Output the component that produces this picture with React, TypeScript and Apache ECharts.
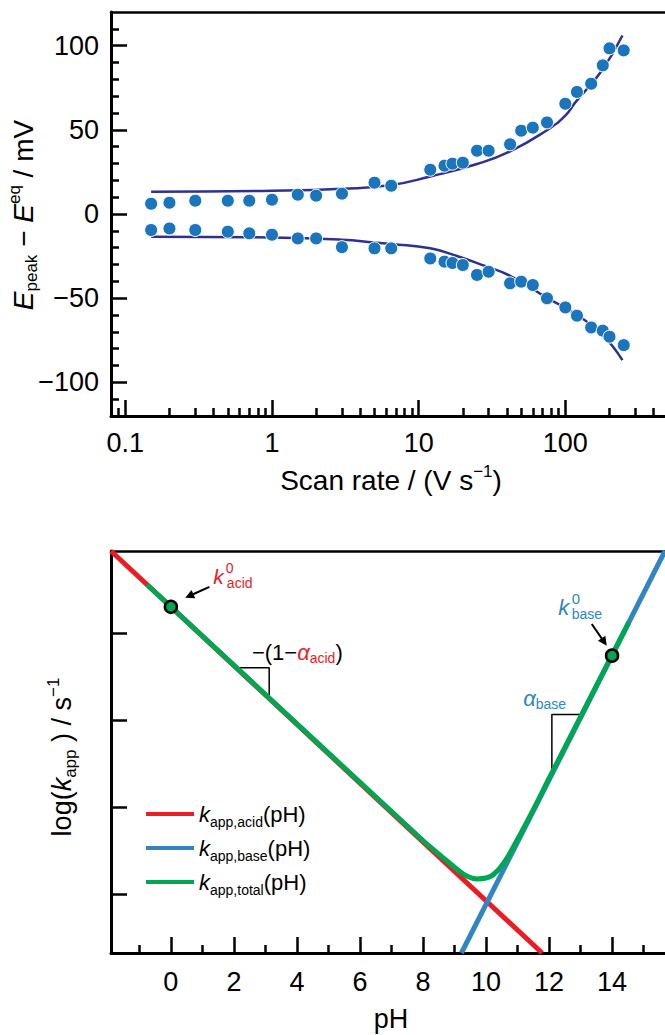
import React, { useEffect, useRef } from 'react';
import * as echarts from 'echarts';

const FONT = 'Liberation Sans, Arial, Helvetica, sans-serif';

// ---------- Top panel data ----------
const scanRates = [0.15, 0.2, 0.3, 0.5, 0.7, 1, 1.5, 2, 3, 5, 6.5, 12, 15, 17, 20, 25, 30, 42, 50, 60, 75, 100, 120, 150, 180, 200, 250];
const upperPeak = [6.1, 6.7, 7.9, 7.9, 7.9, 8.5, 11.5, 10.9, 12.1, 18.6, 16.8, 26.3, 28.7, 29.9, 30.5, 37.6, 37.6, 41.4, 49.5, 51.3, 54.4, 65.5, 72.5, 77.4, 88.3, 98.4, 97.2];
const lowerPeak = [-9.5, -8.6, -9.5, -10.5, -11.5, -12.3, -14.5, -14.5, -19.7, -20.4, -20.4, -26.4, -28.3, -29.1, -30.3, -36.2, -34.3, -41.2, -40.2, -42.2, -50.1, -55.5, -60.4, -67.4, -69.3, -72.9, -77.9];

const upperFitRate = [0.15, 1, 3, 6.5, 12, 25, 42, 74, 100, 117, 177, 245];
const upperFitPeak = [13.2, 13.8, 15.0, 17.2, 22.3, 29.7, 37.2, 49.5, 58.5, 66.3, 85.1, 106];
const lowerFitRate = [0.15, 1, 3, 5, 6.5, 12, 18, 28, 42, 74, 117, 177, 245];
const lowerFitPeak = [-13.5, -14.0, -15.3, -16.9, -17.8, -20.4, -24.8, -30.7, -36.7, -49.5, -59.4, -71.3, -86.8];

const rateMin = 0.0799;
const rateMax = 478;
const rateMajorTicks = [0.1, 1, 10, 100];
const rateTickLabels = ['0.1', '1', '10', '100'];
const rateMinorTicks = [0.09, 0.2, 0.3, 0.4, 0.5, 0.6, 0.7, 0.8, 0.9, 2, 3, 4, 5, 6, 7, 8, 9, 20, 30, 40, 50, 60, 70, 80, 90, 200, 300, 400];
const peakMin = -120;
const peakMax = 120;
const peakMajorTicks = [-100, -50, 0, 50, 100];
const peakMinorTicks = [-110, -90, -80, -70, -60, -40, -30, -20, -10, 10, 20, 30, 40, 60, 70, 80, 90, 110];

// ---------- Bottom panel data ----------
const acidPH = [-1.9, 11.78];
const acidLogK = [4.94, 0.33];
const basePH = [9.22, 15.68];
const baseLogK = [0.33, 4.94];
const totalPH = [-0.76, 8.0, 8.55, 9.08, 9.4, 9.71, 10.0, 10.24, 10.56, 10.98, 11.51, 12.04, 14.53];
const totalLogK = [4.556, 1.62, 1.45, 1.29, 1.21, 1.18, 1.19, 1.23, 1.36, 1.62, 1.98, 2.36, 4.12];
const k0Points = [[0, 4.30], [14, 3.74]];
const acidSlopePH = [2.1, 3.12, 3.12];
const acidSlopeLogK = [3.60, 3.60, 3.26];
const baseSlopePH = [13.0, 12.09, 12.09];
const baseSlopeLogK = [3.066, 3.066, 2.40];

const pHMin = -1.9;
const pHMax = 15.68;
const pHMajorTicks = [0, 2, 4, 6, 8, 10, 12, 14];
const pHMinorTicks = [-1, 1, 3, 5, 7, 9, 11, 13, 15];
const logKMin = 0.33;
const logKMax = 4.94;
const logKTicks = [1, 2, 3, 4];

const RED = '#ED1C24';
const BLUE = '#2F86C3';
const GREEN = '#00A651';
const NAVY = '#2E3192';
const DOT = '#1B75BC';

const zip = (a: number[], b: number[]) => a.map((v, i) => [v, b[i]]);
const zipLog = (a: number[], b: number[]) => a.map((v, i) => [Math.log10(v), b[i]]);

function axisBase(extra: any) {
  return {
    type: 'value',
    splitLine: { show: false },
    axisLine: { show: false, onZero: false },
    axisTick: { show: false },
    axisLabel: { show: false },
    ...extra,
  };
}

function buildOption(): any {
  const lineAxis = { show: true, onZero: false, lineStyle: { color: '#000', width: 3 } };
  const tickStyle = { color: '#000', width: 2.5 };
  const lblStyle = { color: '#000', fontSize: 27, fontFamily: FONT };
  return {
    animation: false,
    backgroundColor: '#fff',
    grid: [
      { left: 111, right: 0, top: 12, bottom: 619, containLabel: false, outerBoundsMode: 'none' },
      { left: 111, right: 0, top: 551, bottom: 82, containLabel: false, outerBoundsMode: 'none' },
    ],
    xAxis: [
      axisBase({
        gridIndex: 0, position: 'bottom', min: Math.log10(rateMin), max: Math.log10(rateMax),
        axisLine: lineAxis,
        axisTick: { show: true, inside: true, length: 16, customValues: rateMajorTicks.map(Math.log10), lineStyle: tickStyle },
        axisLabel: {
          show: true, ...lblStyle, margin: 13, customValues: rateMajorTicks.map(Math.log10),
          formatter: (v: number) => {
            const i = rateMajorTicks.findIndex((r) => Math.abs(Math.log10(r) - v) < 1e-6);
            return i >= 0 ? rateTickLabels[i] : '';
          },
        },
      }),
      axisBase({
        gridIndex: 0, position: 'bottom', min: Math.log10(rateMin), max: Math.log10(rateMax),
        axisTick: { show: true, inside: true, length: 8, customValues: rateMinorTicks.map(Math.log10), lineStyle: tickStyle },
      }),
      axisBase({ gridIndex: 0, position: 'top', min: 0, max: 1, axisLine: { show: true, onZero: false, lineStyle: { color: '#000', width: 2.5 } } }),
      axisBase({
        gridIndex: 1, position: 'bottom', min: pHMin, max: pHMax,
        axisLine: lineAxis,
        axisTick: { show: true, inside: true, length: 16, customValues: pHMajorTicks, lineStyle: tickStyle },
        axisLabel: { show: true, ...lblStyle, margin: 15, customValues: pHMajorTicks, formatter: (v: number) => String(Math.round(v)) },
      }),
      axisBase({
        gridIndex: 1, position: 'bottom', min: pHMin, max: pHMax,
        axisTick: { show: true, inside: true, length: 8, customValues: pHMinorTicks, lineStyle: tickStyle },
      }),
      axisBase({ gridIndex: 1, position: 'top', min: 0, max: 1, axisLine: { show: true, onZero: false, lineStyle: { color: '#000', width: 2.5 } } }),
    ],
    yAxis: [
      axisBase({
        gridIndex: 0, position: 'left', min: peakMin, max: peakMax,
        axisLine: lineAxis,
        axisTick: { show: true, inside: true, length: 16, customValues: peakMajorTicks, lineStyle: tickStyle },
        axisLabel: {
          show: true, ...lblStyle, margin: 12, customValues: peakMajorTicks,
          formatter: (v: number) => (v < 0 ? '\u2212' + Math.abs(v) : String(v)),
        },
      }),
      axisBase({
        gridIndex: 0, position: 'left', min: peakMin, max: peakMax,
        axisTick: { show: true, inside: true, length: 8, customValues: peakMinorTicks, lineStyle: tickStyle },
      }),
      axisBase({
        gridIndex: 1, position: 'left', min: logKMin, max: logKMax,
        axisLine: lineAxis,
        axisTick: { show: true, inside: true, length: 16, customValues: logKTicks, lineStyle: tickStyle },
      }),
    ],
    legend: {
      data: ['acid', 'base', 'total'],
      orient: 'vertical',
      left: 146,
      top: 803,
      padding: 0,
      itemGap: 8,
      itemWidth: 48,
      itemHeight: 4,
      icon: 'rect',
      selectedMode: false,
      formatter: (name: string) => '{k|k}{s|app,' + name + '}{t|(pH)}',
      textStyle: {
        rich: {
          k: { fontSize: 22, fontStyle: 'italic', fontFamily: FONT, color: '#000', lineHeight: 30 },
          t: { fontSize: 22, fontFamily: FONT, color: '#000', lineHeight: 30 },
          s: { fontSize: 14, fontFamily: FONT, color: '#000', lineHeight: 12, verticalAlign: 'bottom' },
        },
      },
    },
    series: [
      { name: 'upperFit', type: 'line', xAxisIndex: 0, yAxisIndex: 0, data: zipLog(upperFitRate, upperFitPeak), smooth: true, symbol: 'none', color: NAVY, lineStyle: { color: NAVY, width: 2.5 }, silent: true, z: 2 },
      { name: 'lowerFit', type: 'line', xAxisIndex: 0, yAxisIndex: 0, data: zipLog(lowerFitRate, lowerFitPeak), smooth: true, symbol: 'none', color: NAVY, lineStyle: { color: NAVY, width: 2.5 }, silent: true, z: 2 },
      { name: 'upperPts', type: 'scatter', xAxisIndex: 0, yAxisIndex: 0, data: zipLog(scanRates, upperPeak), symbolSize: 13, itemStyle: { color: DOT, borderColor: '#fff', borderWidth: 1, opacity: 1 }, silent: true, z: 3 },
      { name: 'lowerPts', type: 'scatter', xAxisIndex: 0, yAxisIndex: 0, data: zipLog(scanRates, lowerPeak), symbolSize: 13, itemStyle: { color: DOT, borderColor: '#fff', borderWidth: 1, opacity: 1 }, silent: true, z: 3 },
      { name: 'acidSlope', type: 'line', xAxisIndex: 3, yAxisIndex: 2, data: zip(acidSlopePH, acidSlopeLogK), symbol: 'none', color: '#000', lineStyle: { color: '#000', width: 1.5 }, silent: true, z: 1 },
      { name: 'baseSlope', type: 'line', xAxisIndex: 3, yAxisIndex: 2, data: zip(baseSlopePH, baseSlopeLogK), symbol: 'none', color: '#000', lineStyle: { color: '#000', width: 1.5 }, silent: true, z: 1 },
      { name: 'acid', type: 'line', xAxisIndex: 3, yAxisIndex: 2, data: zip(acidPH, acidLogK), symbol: 'none', color: RED, lineStyle: { color: RED, width: 5 }, silent: true, z: 2 },
      { name: 'base', type: 'line', xAxisIndex: 3, yAxisIndex: 2, data: zip(basePH, baseLogK), symbol: 'none', color: BLUE, lineStyle: { color: BLUE, width: 5 }, silent: true, z: 2 },
      { name: 'total', type: 'line', xAxisIndex: 3, yAxisIndex: 2, data: zip(totalPH, totalLogK), smooth: 0.4, symbol: 'none', color: GREEN, lineStyle: { color: GREEN, width: 5 }, silent: true, z: 3 },
      { name: 'k0', type: 'scatter', xAxisIndex: 3, yAxisIndex: 2, data: k0Points, symbolSize: 12, itemStyle: { color: GREEN, borderColor: '#000', borderWidth: 2.5, opacity: 1 }, silent: true, z: 5 },
    ],
  };
}

function arrow(tail: number[], tip: number[]) {
  const dx = tip[0] - tail[0];
  const dy = tip[1] - tail[1];
  const L = Math.hypot(dx, dy);
  const ux = dx / L;
  const uy = dy / L;
  const hl = 9;
  const hw = 4.5;
  const bx = tip[0] - ux * hl;
  const by = tip[1] - uy * hl;
  return [
    { type: 'line', shape: { x1: tail[0], y1: tail[1], x2: bx + ux * 1, y2: by + uy * 1 }, style: { stroke: '#000', lineWidth: 2 }, silent: true },
    { type: 'polygon', shape: { points: [[tip[0], tip[1]], [bx - uy * hw, by + ux * hw], [bx + uy * hw, by - ux * hw]] }, style: { fill: '#000' }, silent: true },
  ];
}

function txt(x: number, y: number, text: string, size: number, color: string, italic = false, extra: any = {}) {
  return {
    type: 'text', x, y, silent: true,
    style: { text, fontSize: size, fontFamily: FONT, fontStyle: italic ? 'italic' : 'normal', fill: color, align: 'left', verticalAlign: 'middle', ...extra },
  };
}

function buildGraphic(chart: any) {
  const ca = chart.convertToPixel({ seriesIndex: 9 }, k0Points[0]) as number[];
  const cb = chart.convertToPixel({ seriesIndex: 9 }, k0Points[1]) as number[];
  const ta = chart.convertToPixel({ seriesIndex: 4 }, [acidSlopePH[1], acidSlopeLogK[1]]) as number[];
  const tb = chart.convertToPixel({ seriesIndex: 5 }, [baseSlopePH[1], baseSlopeLogK[1]]) as number[];
  const els: any[] = [];
  // axis titles
  els.push({
    type: 'text', x: 23, y: 215, rotation: Math.PI / 2, silent: true,
    style: {
      text: '{i|E}{sub|peak}{t| \u2212 }{i|E}{sup|eq}{t| / mV}', align: 'center', verticalAlign: 'middle',
      rich: {
        i: { fontSize: 28, fontStyle: 'italic', fontFamily: FONT, fill: '#000', lineHeight: 34 },
        t: { fontSize: 28, fontFamily: FONT, fill: '#000', lineHeight: 34 },
        sub: { fontSize: 17, fontFamily: FONT, fill: '#000', lineHeight: 14, verticalAlign: 'bottom' },
        sup: { fontSize: 17, fontFamily: FONT, fill: '#000', lineHeight: 18, verticalAlign: 'top' },
      },
    },
  });
  els.push({
    type: 'text', x: 391, y: 480, silent: true,
    style: {
      text: '{t|Scan rate / (V s}{sup|\u22121}{t|)}', align: 'center', verticalAlign: 'middle',
      rich: {
        t: { fontSize: 28, fontFamily: FONT, fill: '#000', lineHeight: 34 },
        sup: { fontSize: 17, fontFamily: FONT, fill: '#000', lineHeight: 18, verticalAlign: 'top' },
      },
    },
  });
  els.push({
    type: 'text', x: 62, y: 757, rotation: Math.PI / 2, silent: true,
    style: {
      text: '{t|log(}{i|k}{sub|app}{t| ) / s}{sup|\u22121}', align: 'center', verticalAlign: 'middle',
      rich: {
        i: { fontSize: 27, fontStyle: 'italic', fontFamily: FONT, fill: '#000', lineHeight: 34 },
        t: { fontSize: 27, fontFamily: FONT, fill: '#000', lineHeight: 34 },
        sub: { fontSize: 17, fontFamily: FONT, fill: '#000', lineHeight: 14, verticalAlign: 'bottom' },
        sup: { fontSize: 17, fontFamily: FONT, fill: '#000', lineHeight: 18, verticalAlign: 'top' },
      },
    },
  });
  els.push(txt(391, 1019, 'pH', 27, '#000', false, { align: 'center' }));

  // k0 acid
  els.push(...arrow([ca[0] + 38.6, ca[1] - 20], [ca[0] + 14.3, ca[1] - 9]));
  els.push(txt(ca[0] + 42.5, ca[1] - 30, 'k', 21, RED, true));
  els.push(txt(ca[0] + 55, ca[1] - 38.5, '0', 14, RED));
  els.push(txt(ca[0] + 56, ca[1] - 23.5, 'acid', 14, RED));
  // k0 base
  els.push(...arrow([cb[0] - 20.3, cb[1] - 31.6], [cb[0] - 5.3, cb[1] - 10]));
  els.push(txt(cb[0] - 53.7, cb[1] - 48.3, 'k', 22, BLUE, true));
  els.push(txt(cb[0] - 40.3, cb[1] - 56.8, '0', 15, BLUE));
  els.push(txt(cb[0] - 40.3, cb[1] - 41.5, 'base', 14, BLUE));
  // slope labels
  els.push({
    type: 'text', x: ta[0] - 17.3, y: ta[1] - 15.7, silent: true,
    style: {
      text: '{t|\u2212(1\u2212}{a|\u03B1}{s|acid}{t|)}', align: 'left', verticalAlign: 'middle',
      rich: {
        t: { fontSize: 22, fontFamily: FONT, fill: '#000', lineHeight: 26 },
        a: { fontSize: 22, fontFamily: FONT, fontStyle: 'italic', fill: RED, lineHeight: 26 },
        s: { fontSize: 14, fontFamily: FONT, fill: RED, lineHeight: 16, verticalAlign: 'bottom' },
      },
    },
  });
  els.push({
    type: 'text', x: tb[0] - 28.7, y: tb[1] - 16.3, silent: true,
    style: {
      text: '{a|\u03B1}{s|base}', align: 'left', verticalAlign: 'middle',
      rich: {
        a: { fontSize: 22, fontFamily: FONT, fontStyle: 'italic', fill: BLUE, lineHeight: 26 },
        s: { fontSize: 14, fontFamily: FONT, fill: BLUE, lineHeight: 12, verticalAlign: 'bottom' },
      },
    },
  });
  return els;
}

export default function App() {
  const ref = useRef<HTMLDivElement>(null);
  useEffect(() => {
    const chart = echarts.init(ref.current as HTMLDivElement, null, { renderer: 'svg' });
    chart.setOption(buildOption());
    chart.setOption({ graphic: buildGraphic(chart) });
    return () => chart.dispose();
  }, []);
  return <div ref={ref} style={{ position: 'absolute', left: 0, top: 0, width: 665, height: 1035, background: '#fff' }} />;
}
